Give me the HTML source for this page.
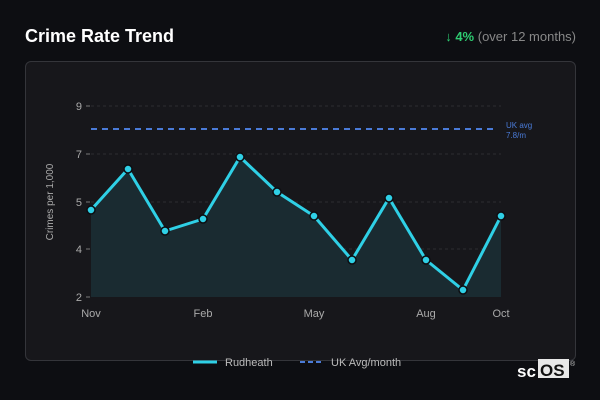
<!DOCTYPE html>
<html><head><style>
body{margin:0;width:600px;height:400px;background:#0d0e12;font-family:"Liberation Sans",sans-serif;overflow:hidden;position:relative}
.t{position:absolute;left:25px;top:26px;color:#fff;font-size:18px;font-weight:bold}
.c{position:absolute;right:24px;top:29px;font-size:13px;color:#888}
.card{position:absolute;left:25px;top:61px;width:549px;height:298px;border:1px solid #34353a;border-radius:6px;background:#17171b}
</style></head><body>
<div class="t">Crime Rate Trend</div>
<div class="c"><span style="color:#2ecc71;font-weight:bold">↓ 4%</span> (over 12 months)</div>
<div class="card"></div>
<svg width="600" height="400" style="position:absolute;left:0;top:0" font-family="Liberation Sans, sans-serif">
<g stroke="#2c2d31" stroke-dasharray="3,3" stroke-width="1">
<line x1="91" x2="501" y1="106" y2="106"/><line x1="91" x2="501" y1="154" y2="154"/><line x1="91" x2="501" y1="202" y2="202"/><line x1="91" x2="501" y1="249" y2="249"/></g>
<g stroke="#777" stroke-width="1"><line x1="86" x2="90" y1="106" y2="106"/><line x1="86" x2="90" y1="154" y2="154"/><line x1="86" x2="90" y1="202" y2="202"/><line x1="86" x2="90" y1="249" y2="249"/><line x1="86" x2="90" y1="297" y2="297"/></g>
<g fill="#aaa" font-size="11" text-anchor="end"><text x="82" y="110">9</text><text x="82" y="158">7</text><text x="82" y="206">5</text><text x="82" y="253">4</text><text x="82" y="301">2</text></g>
<text x="53" y="202" fill="#aaa" font-size="10" text-anchor="middle" transform="rotate(-90 53 202)">Crimes per 1,000</text>
<g fill="#aaa" font-size="11" text-anchor="middle"><text x="91" y="317">Nov</text><text x="203" y="317">Feb</text><text x="314" y="317">May</text><text x="426" y="317">Aug</text><text x="501" y="317">Oct</text></g>
<polygon fill="#1a2b31" points="91,297 91,210 128,169 165,231 203,219 240,157 277,192 314,216 352,260 389,198 426,260 463,290 501,216 501,297"/>
<line x1="91" x2="497" y1="129" y2="129" stroke="#4a7bd8" stroke-width="2" stroke-dasharray="6,5"/>
<text x="506" y="128" fill="#4a7bd8" font-size="8">UK avg</text><text x="506" y="138" fill="#4a7bd8" font-size="8">7.8/m</text>
<polyline fill="none" stroke="#2fd0e6" stroke-width="3" stroke-linejoin="round" points="91,210 128,169 165,231 203,219 240,157 277,192 314,216 352,260 389,198 426,260 463,290 501,216"/>
<g fill="#2fd0e6" stroke="#0d0e12" stroke-width="1.5">
<circle cx="91" cy="210" r="4"/><circle cx="128" cy="169" r="4"/><circle cx="165" cy="231" r="4"/><circle cx="203" cy="219" r="4"/><circle cx="240" cy="157" r="4"/><circle cx="277" cy="192" r="4"/><circle cx="314" cy="216" r="4"/><circle cx="352" cy="260" r="4"/><circle cx="389" cy="198" r="4"/><circle cx="426" cy="260" r="4"/><circle cx="463" cy="290" r="4"/><circle cx="501" cy="216" r="4"/></g>
<line x1="193" x2="217" y1="362" y2="362" stroke="#2fd0e6" stroke-width="3"/>
<text x="225" y="366" fill="#bbb" font-size="11">Rudheath</text>
<line x1="300" x2="324" y1="362" y2="362" stroke="#4a7bd8" stroke-width="2" stroke-dasharray="5,3"/>
<text x="331" y="366" fill="#bbb" font-size="11">UK Avg/month</text>
<text x="517" y="377" fill="#fff" font-size="17" font-weight="bold">sc</text>
<rect x="538" y="359" width="31" height="19" fill="#e8e8e8"/>
<text x="540" y="376" fill="#111" font-size="17" font-weight="bold">OS</text>
<text x="570" y="366" fill="#ccc" font-size="7">®</text>
</svg>
</body></html>
